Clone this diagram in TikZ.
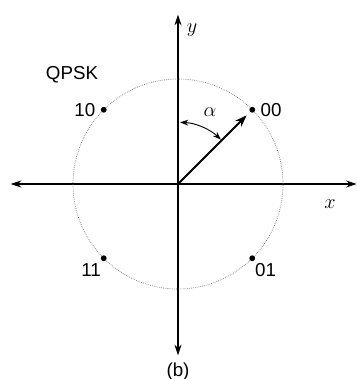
\documentclass[tikz,border=0pt]{standalone}
\usepackage{fontspec}
\setmainfont{Liberation Sans}
\usepackage{tikz}
\usetikzlibrary{arrows.meta, positioning, calc}

\begin{document}
\begin{tikzpicture}[
    axis/.style={line width=1.2pt, {Stealth[length=9pt,width=6pt]}-{Stealth[length=9pt,width=6pt]}},
    dot/.style={circle, fill=black, inner sep=0pt, minimum size=5pt},
    lbl/.style={font=\fontsize{16}{18}\selectfont},
    var/.style={font=\fontsize{18}{20}\selectfont}
  ]
  \useasboundingbox (-5.34,-5.85) rectangle (5.37,5.52);
  % axes
  \coordinate (O) at (0,0);
  \coordinate (xl) at (-5.02,0);
  \coordinate (xr) at (5.36,0);
  \coordinate (yt) at (0,5.08);
  \coordinate (yb) at (0,-5.14);
  \draw[axis] (xl) -- (xr);
  \draw[axis] (yb) -- (yt);
  \node[var] (xlab) at (4.56,-0.6) {$x$};
  \node[var] (ylab) at (0.42,4.62) {$y$};
  % unit circle
  \draw[black!55, densely dotted, line width=0.6pt] (O) circle (3.15);
  % constellation points
  \node[dot] (p00) at (45:3.15) {};
  \node[dot] (p10) at (135:3.15) {};
  \node[dot] (p11) at (225:3.15) {};
  \node[dot] (p01) at (315:3.15) {};
  \node[lbl, right=1pt of p00] (l00) {00};
  \node[lbl, left=1pt of p10] (l10) {10};
  \node[lbl, below left=-1pt and -3pt of p11] (l11) {11};
  \node[lbl, below right=-1pt and -3pt of p01] (l01) {01};
  % phase vector
  \draw[line width=1.8pt, -{Stealth[length=10pt,width=7pt]}, shorten >=4pt] (O) -- (p00);
  % angle
  \draw[line width=0.8pt, {Stealth[length=7pt,width=5pt]}-{Stealth[length=7pt,width=5pt]}] (88:1.85) arc (88:46:1.85);
  \node[var] (alpha) at (66:2.36) {$\alpha$};
  % labels
  \node[lbl] (qpsk) at (-3.18,3.27) {QPSK};
  \node[lbl] (cap) at (0,-5.64) {(b)};
\end{tikzpicture}
\end{document}
